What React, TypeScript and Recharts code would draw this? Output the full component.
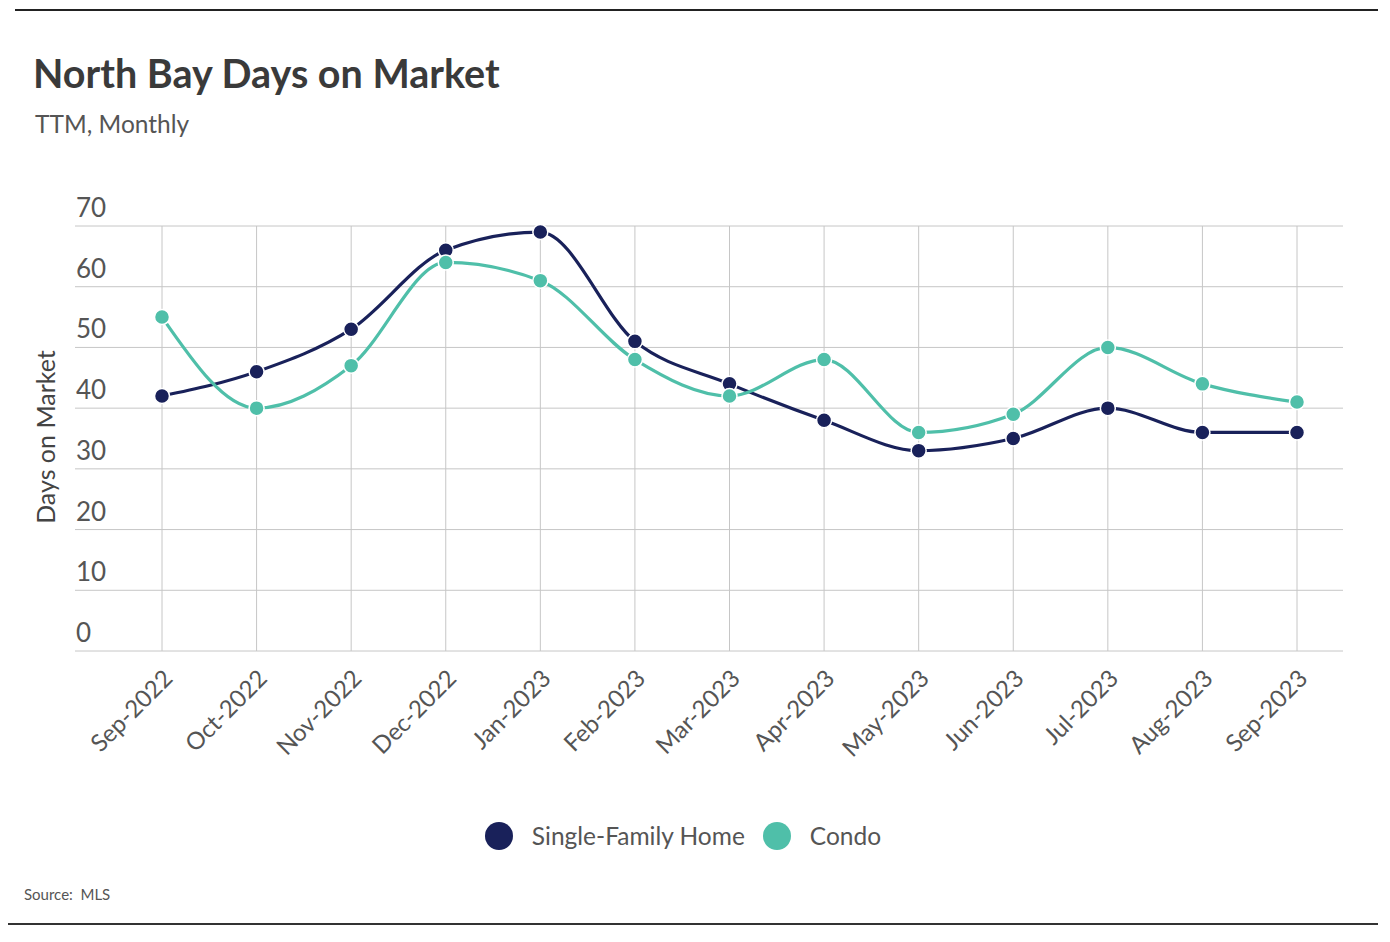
import React from 'react'
import {
    LineChart,
    Line,
    XAxis,
    YAxis,
    CartesianGrid,
    Legend,
} from 'recharts'

const months = [
    'Sep-2022', 'Oct-2022', 'Nov-2022', 'Dec-2022', 'Jan-2023', 'Feb-2023', 'Mar-2023',
    'Apr-2023', 'May-2023', 'Jun-2023', 'Jul-2023', 'Aug-2023', 'Sep-2023',
]
const singleFamily = [42, 46, 53, 66, 69, 51, 44, 38, 33, 35, 40, 36, 36]
const condo = [55, 40, 47, 64, 61, 48, 42, 48, 36, 39, 50, 44, 41]
const yTicks = [0, 10, 20, 30, 40, 50, 60, 70]

const NAVY = '#19215a'
const TEAL = '#4fbfa9'
const FONT = 'Lato, "Noto Sans", sans-serif'

const data = months.map((m, i) => ({
    month: m,
    sfh: singleFamily[i],
    condo: condo[i],
}))

const XTick = ({ x, y, payload }: any) => (
    <text
        transform={`translate(${x + 12},${y + 29}) rotate(-45)`}
        textAnchor="end"
        fill="#555"
        fontSize={24}
        fontFamily={FONT}
    >
        {payload.value}
    </text>
)

const YTick = ({ x, y, payload }: any) => (
    <text x={x + 1} y={y - 9} textAnchor="start" fill="#555" fontSize={26} fontFamily={FONT}>
        {payload.value}
    </text>
)

const YLabel = () => (
    <text
        x={55}
        y={437}
        transform="rotate(-90, 55, 437)"
        textAnchor="middle"
        fill="#444"
        fontSize={25}
        fontFamily={FONT}
    >
        Days on Market
    </text>
)

const LegendContent = () => (
    <div style={{ display: 'flex', justifyContent: 'center', alignItems: 'center', fontFamily: FONT, fontSize: 24.5, color: '#555' }}>
        <span style={{ width: 28, height: 28, borderRadius: 14, background: NAVY, display: 'inline-block', marginRight: 19 }} />
        <span style={{ marginRight: 18 }}>Single-Family Home</span>
        <span style={{ width: 28, height: 28, borderRadius: 14, background: TEAL, display: 'inline-block', marginRight: 19 }} />
        <span>Condo</span>
    </div>
)

export default function App() {
    return (
        <div style={{ position: 'absolute', left: 0, top: 0, width: 1390, height: 942, background: '#fff', fontFamily: FONT }}>
            <div style={{ position: 'absolute', left: 15, top: 9, width: 1363, height: 2, background: '#222' }} />
            <div style={{ position: 'absolute', left: 33, top: 49, fontSize: 39.5, fontWeight: 700, color: '#3a3a3a', whiteSpace: 'nowrap' }}>
                North Bay Days on Market
            </div>
            <div style={{ position: 'absolute', left: 35, top: 109, fontSize: 24.5, color: '#555', whiteSpace: 'nowrap' }}>
                TTM, Monthly
            </div>
            <div style={{ position: 'absolute', left: 0, top: 0 }}>
                <LineChart width={1390} height={942} data={data} margin={{ top: 226, right: 47, left: 0, bottom: 0 }}>
                    <CartesianGrid stroke="#c6c6c6" strokeWidth={1} syncWithTicks />
                    <XAxis
                        dataKey="month"
                        height={291}
                        padding={{ left: 87, right: 46 }}
                        interval={0}
                        axisLine={false}
                        tickLine={false}
                        tickSize={0}
                        tickMargin={0}
                        tick={<XTick />}
                    />
                    <YAxis
                        width={75}
                        domain={[0, 70]}
                        ticks={yTicks}
                        axisLine={false}
                        tickLine={false}
                        tickSize={0}
                        tickMargin={0}
                        tick={<YTick />}
                        label={<YLabel />}
                    />
                    <Legend
                        layout="horizontal"
                        verticalAlign="middle"
                        align="center"
                        wrapperStyle={{ top: 821, left: 0, width: 1366 }}
                        content={<LegendContent />}
                    />
                    <Line
                        type="monotone"
                        dataKey="sfh"
                        name="Single-Family Home"
                        stroke={NAVY}
                        strokeWidth={3.2}
                        dot={{ r: 7.5, fill: NAVY, stroke: '#fff', strokeWidth: 1.5 }}
                        isAnimationActive={false}
                    />
                    <Line
                        type="monotone"
                        dataKey="condo"
                        name="Condo"
                        stroke={TEAL}
                        strokeWidth={3.2}
                        dot={{ r: 7.5, fill: TEAL, stroke: '#fff', strokeWidth: 1.5 }}
                        isAnimationActive={false}
                    />
                </LineChart>
            </div>
            <div style={{ position: 'absolute', left: 24, top: 885, fontSize: 15, color: '#555', whiteSpace: 'nowrap' }}>
                Source:&nbsp; MLS
            </div>
            <div style={{ position: 'absolute', left: 8, top: 923, width: 1370, height: 2, background: '#333' }} />
        </div>
    )
}
